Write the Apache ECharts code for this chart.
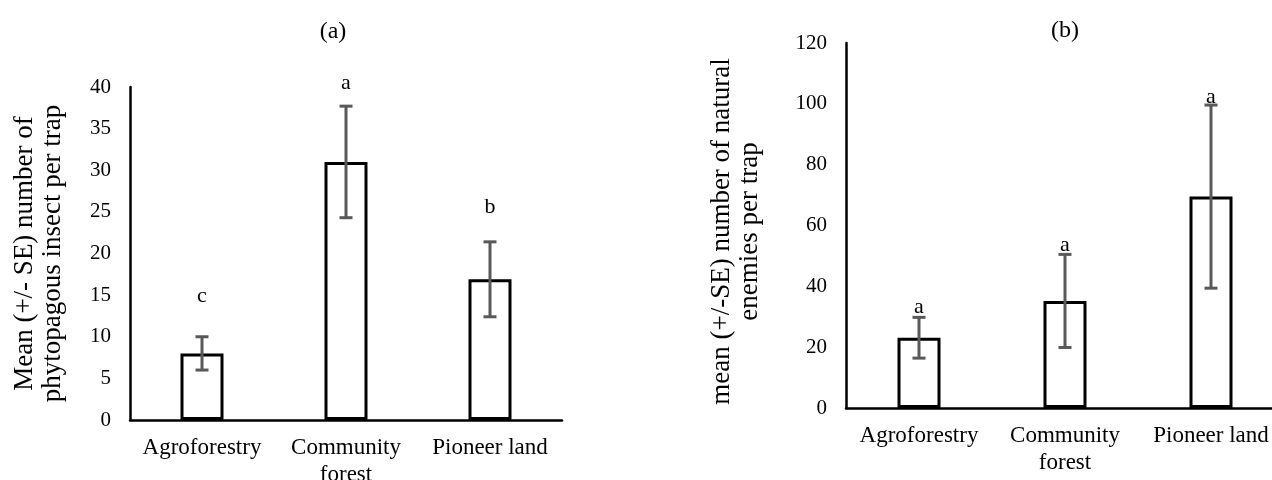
<!DOCTYPE html>
<html>
<head>
<meta charset="utf-8">
<script src="https://cdn.jsdelivr.net/npm/echarts@6/dist/echarts.min.js"></script>
<style>
html, body { margin: 0; padding: 0; background: #fff; }
#main { width: 1272px; height: 480px; }
</style>
</head>
<body>
<div id="main"></div>
<script>
var categories = ['Agroforestry', 'Community\nforest', 'Pioneer land']

// (a) phytopagous insects per trap
var meanA = [8.0, 31.0, 16.9]
var seA = [2.0, 6.7, 4.5]
var letterA = ['c', 'a', 'b']
var letterPosA = [14.9, 40.5, 25.5]
var yTicksA = [0, 40, 5]

// (b) natural enemies per trap
var meanB = [23.1, 35.2, 69.5]
var seB = [6.7, 15.3, 30.1]
var letterB = ['a', 'a', 'a']
var letterPosB = [33.2, 53.6, 102.2]
var yTicksB = [0, 120, 20]

var FONT = '"Liberation Serif", "Times New Roman", serif'

// data rows for the error bar series: [index, low, high, letter y]
function errRows (mean, se, pos) {
  var rows = []
  for (var i = 0; i < mean.length; i++) {
    rows.push([i, mean[i] - se[i], mean[i] + se[i], pos[i]])
  }
  return rows
}

function errorBars (letters) {
  return function (params, api) {
    var x = api.value(0)
    var lo = api.coord([x, api.value(1)])
    var hi = api.coord([x, api.value(2)])
    var lp = api.coord([x, api.value(3)])
    var half = 6.5
    var st = { stroke: '#595959', lineWidth: 3 }
    return {
      type: 'group',
      children: [
        { type: 'line', shape: { x1: hi[0], y1: hi[1], x2: lo[0], y2: lo[1] }, style: st },
        { type: 'line', shape: { x1: hi[0] - half, y1: hi[1], x2: hi[0] + half, y2: hi[1] }, style: st },
        { type: 'line', shape: { x1: lo[0] - half, y1: lo[1], x2: lo[0] + half, y2: lo[1] }, style: st },
        {
          type: 'text',
          style: {
            text: letters[params.dataIndex],
            x: lp[0],
            y: lp[1],
            align: 'center',
            verticalAlign: 'middle',
            fontSize: 22,
            fontFamily: FONT,
            fill: '#000'
          }
        }
      ]
    }
  }
}

function xAxis (grid) {
  return {
    type: 'category',
    gridIndex: grid,
    data: categories,
    axisLine: { lineStyle: { color: '#000', width: 2.5 } },
    axisTick: { show: false },
    axisLabel: { interval: 0, color: '#000', fontSize: 23, lineHeight: 27, fontFamily: FONT, margin: 14 }
  }
}

function yAxis (grid, ticks, name, gap, pad) {
  return {
    type: 'value',
    gridIndex: grid,
    min: ticks[0],
    max: ticks[1],
    interval: ticks[2],
    name: name,
    nameLocation: 'middle',
    nameGap: gap,
    nameTextStyle: { color: '#000', fontSize: 27, lineHeight: 28, fontFamily: FONT, padding: pad },
    axisLine: { show: true, lineStyle: { color: '#000', width: 2.5 } },
    axisTick: { show: false },
    splitLine: { show: false },
    axisLabel: { color: '#000', fontSize: 21, fontFamily: FONT, margin: 19 }
  }
}

var barStyle = { color: '#fff', borderColor: '#000', borderWidth: 3 }

var option = {
  animation: false,
  backgroundColor: '#fff',
  title: [
    { text: '(a)', left: 328, top: 15, textAlign: 'center', textStyle: { color: '#000', fontSize: 24, fontWeight: 'normal', fontFamily: FONT } },
    { text: '(b)', left: 1060, top: 14, textAlign: 'center', textStyle: { color: '#000', fontSize: 24, fontWeight: 'normal', fontFamily: FONT } }
  ],
  grid: [
    { left: 130, top: 87, width: 432, height: 333, outerBoundsMode: 'none' },
    { left: 846, top: 43, width: 438, height: 365, outerBoundsMode: 'none' }
  ],
  xAxis: [xAxis(0), xAxis(1)],
  yAxis: [
    yAxis(0, yTicksA, 'Mean (+/- SE) number of\nphytopagous insect per trap', 63, 0),
    yAxis(1, yTicksB, 'mean (+/-SE) number of natural\nenemies per trap', 82, [0, 12, 0, 0])
  ],
  series: [
    { type: 'bar', xAxisIndex: 0, yAxisIndex: 0, data: meanA, barWidth: 43, itemStyle: barStyle },
    { type: 'bar', xAxisIndex: 1, yAxisIndex: 1, data: meanB, barWidth: 43, itemStyle: barStyle },
    {
      type: 'custom', xAxisIndex: 0, yAxisIndex: 0, z: 5, clip: false,
      renderItem: errorBars(letterA),
      encode: { x: 0, y: [1, 2, 3] },
      data: errRows(meanA, seA, letterPosA)
    },
    {
      type: 'custom', xAxisIndex: 1, yAxisIndex: 1, z: 5, clip: false,
      renderItem: errorBars(letterB),
      encode: { x: 0, y: [1, 2, 3] },
      data: errRows(meanB, seB, letterPosB)
    }
  ]
}

var myChart = echarts.init(document.getElementById('main'))
myChart.setOption(option)
</script>
</body>
</html>
